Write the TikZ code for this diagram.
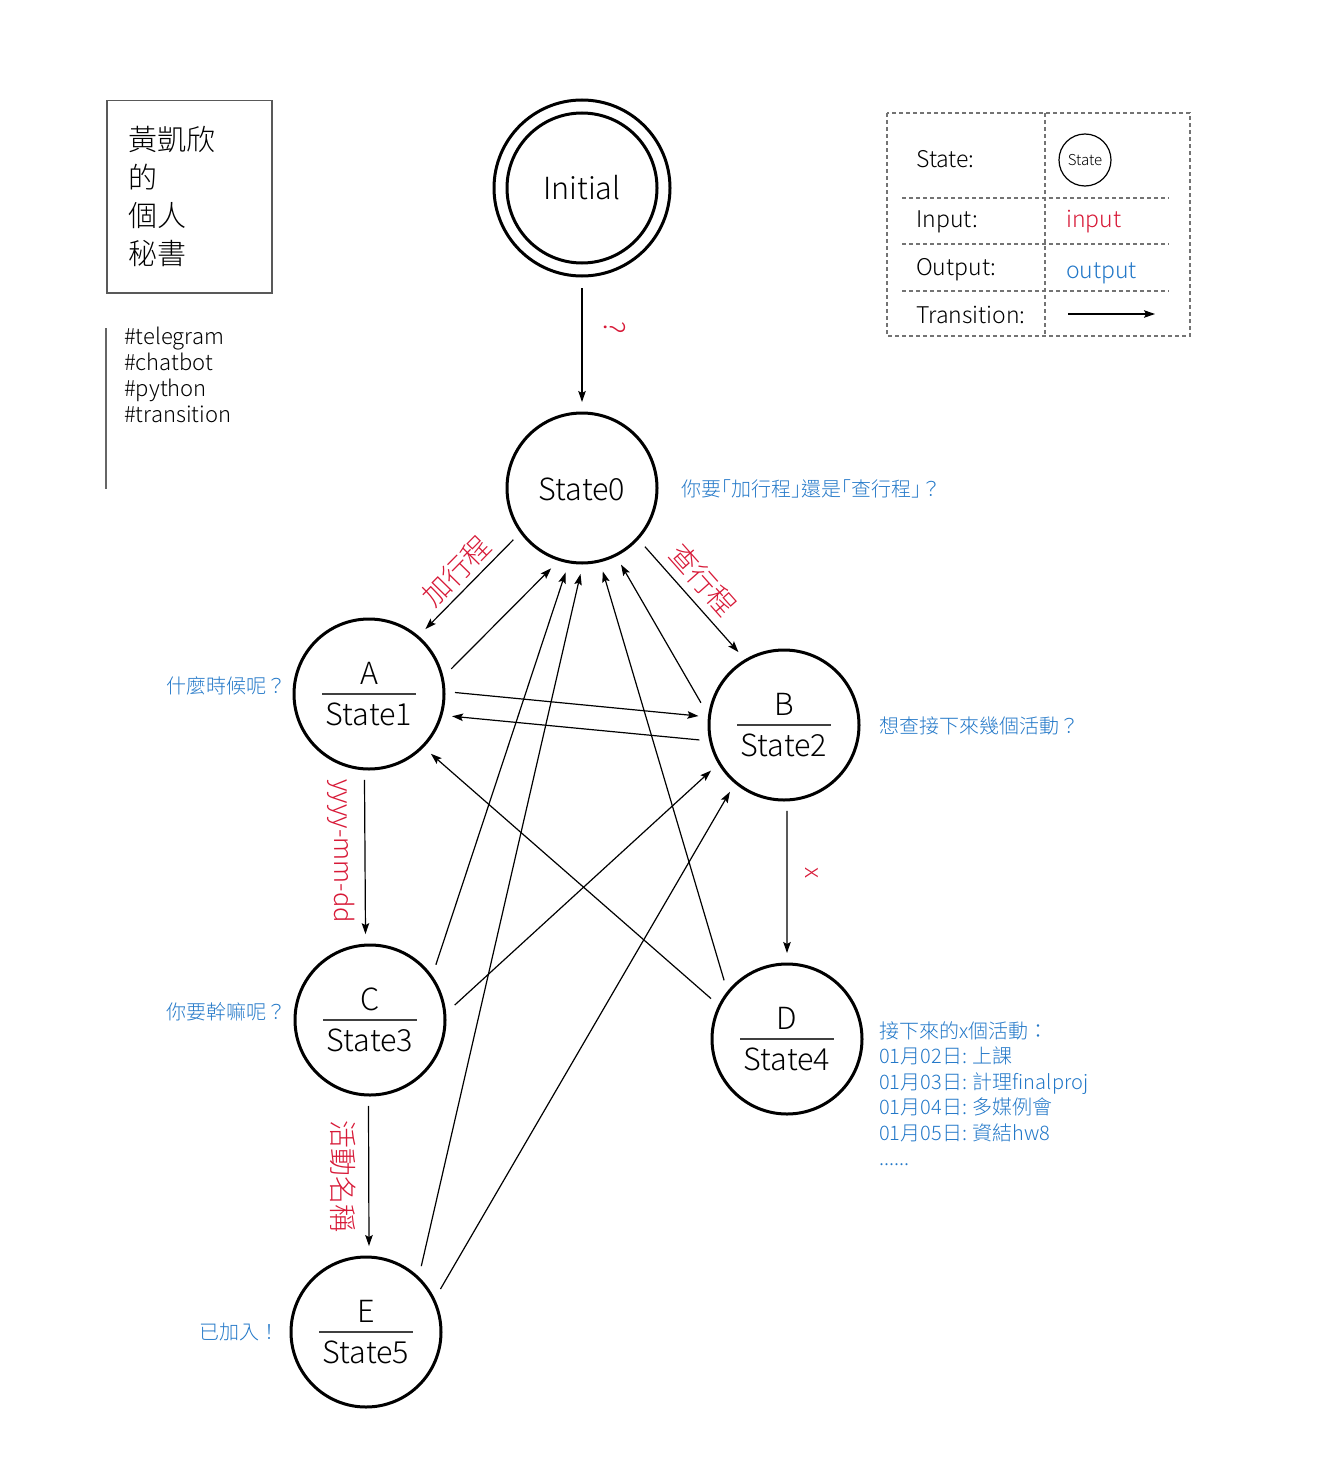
\documentclass[tikz,border=0pt]{standalone}
\usepackage{fontspec}
\IfFontExistsTF{Noto Sans CJK TC Light}{\setmainfont{Noto Sans CJK TC Light}}{\setmainfont{Noto Sans CJK TC}}
\usetikzlibrary{arrows.meta}
\definecolor{outblue}{RGB}{35,120,200}
\definecolor{inred}{RGB}{215,25,55}
\newcommand{\myfs}[2]{\fontsize{#1}{#2}\selectfont}
\newcommand{\hb}[1]{{\addfontfeatures{RawFeature=+halt}#1}}
\newcommand{\mkstate}[5]{%
  \node[statebox] (#1) at (#2,#3) {};
  \node[nm] (#1l) at ([yshift=10pt]#1.center) {#4};
  \node[nm] (#1s) at ([yshift=-31pt]#1.center) {#5};
  \draw[line width=1.3pt, black!75] ([xshift=-47pt]#1.center) -- ([xshift=47pt]#1.center);
}
\begin{document}
\begin{tikzpicture}[x=1pt,y=-1pt,
  statebox/.style={circle, draw, line width=3pt, minimum size=150pt, inner sep=0pt, outer sep=11pt},
  arr/.style={line width=1.2pt, -{Stealth[length=11pt,width=7.5pt,inset=2pt]}},
  inlab/.style={text=inred, font=\myfs{28}{28}, inner sep=2pt},
  outlab/.style={text=outblue, font=\myfs{20}{25.5}, inner sep=0pt},
  nm/.style={font=\myfs{30.5}{30.5}, inner sep=0pt, anchor=base},
  leg/.style={dash pattern=on 4pt off 3pt, line width=1.2pt, draw=black!55},
  legtxt/.style={anchor=west, inner sep=0pt, font=\myfs{23}{23}}]
\useasboundingbox (0,0) rectangle (1324,1461);

% title box
\node[draw=black!65, line width=1.5pt, anchor=north west, minimum width=165pt, minimum height=192pt,
      text width=121pt, inner xsep=22pt, inner ysep=0pt, align=left, font=\myfs{29}{38}] (title) at (106,100)
      {黃凱欣\\的\\個人\\秘書};

% hashtags
\node[anchor=north west, align=left, inner sep=0pt, font=\myfs{22}{26}] (tags) at (124,327)
      {\#telegram\\\#chatbot\\\#python\\\#transition};
\draw[line width=1.3pt, black!60] (106,328) -- (106,489);

% legend
\draw[leg] (887,113) rectangle (1190,336);
\draw[leg] (1045,113) -- (1045,336);
\foreach \yy in {198,244,291} \draw[leg] (902,\yy) -- (1169,\yy);
\node[legtxt] (lg1) at (916,159) {State:};
\node[legtxt] (lg2) at (916,222) {Input:};
\node[legtxt] (lg3) at (916,270) {Output:};
\node[legtxt] (lg4) at (916,315) {Transition:};
\node[circle, draw, line width=1.2pt, minimum size=52pt, inner sep=0pt, font=\myfs{15}{15}] (lgst) at (1085,160) {State};
\node[legtxt, text=inred] (lgin) at (1066,222) {input};
\node[legtxt, text=outblue] (lgout) at (1066,273) {output};
\coordinate (lga) at (1068,314);
\coordinate (lgb) at (1155,314);
\draw[arr] (lga) -- (lgb);

% initial
\node[statebox, minimum size=176pt, outer sep=12pt] (init) at (582,188) {};
\node[circle, draw, line width=3pt, minimum size=150pt, inner sep=0pt] (initin) at (582,188) {};
\node[nm] (initt) at ([yshift=-11pt]initin.center) {Initial};

% states
\node[statebox] (s0) at (582,488) {};
\node[nm] (s0t) at ([yshift=-12pt]s0.center) {State0};
\mkstate{s1}{369}{694}{A}{State1}
\mkstate{s2}{784}{725}{B}{State2}
\mkstate{s3}{370}{1020}{C}{State3}
\mkstate{s4}{787}{1039}{D}{State4}
\mkstate{s5}{366}{1332}{E}{State5}

% transitions
\draw[arr] (init.-90) -- node[inlab, pos=0.35, sloped, allow upside down, above=20pt] {?} (s0.90);
\draw[arr] (s0.217) -- node[inlab, sloped, above=3pt] {加行程} (s1.49);
\draw[arr] (s0.-43) -- node[inlab, pos=0.45, sloped, above=6pt] {查行程} (s2.122);
\draw[arr] (s1.17) -- (s0.-111);
\draw[arr] (s3.40) -- (s0.-101);
\draw[arr] (s5.50) -- (s0.-91);
\draw[arr] (s4.137) -- (s0.-76);
\draw[arr] (s2.165) -- (s0.-63);
\draw[arr] (s1.1) -- (s2.174);
\draw[arr] (s2.-170) -- (s1.-15);
\draw[arr] (s1.-93) -- node[inlab, pos=0.46, sloped, allow upside down, below=8pt, font=\myfs{25.5}{25.5}] {yyyy-mm-dd} (s3.93);
\draw[arr] (s3.10) -- (s2.212);
\draw[arr] (s4.152) -- (s1.-44);
\draw[arr] (s2.-88) -- node[inlab, pos=0.44, sloped, allow upside down, above=16pt, font=\myfs{24}{24}] {x} (s4.90);
\draw[arr] (s5.30) -- (s2.231);
\draw[arr] (s3.-91) -- node[inlab, sloped, allow upside down, below=10pt] {活動名稱} (s5.88);

% outputs
\node[outlab, anchor=west] (o0) at (681,489) {你要\hb{「}加行程\hb{」}還是\hb{「}查行程\hb{」}？};
\node[outlab, anchor=east] (o1) at (287,686) {什麼時候呢？};
\node[outlab, anchor=west] (o2) at (879,726) {想查接下來幾個活動？};
\node[outlab, anchor=east] (o3) at (287,1012) {你要幹嘛呢？};
\node[outlab, anchor=east] (o5) at (280,1332) {已加入！};
\node[outlab, anchor=north west, align=left] (o4) at (879,1021)
  {接下來的x個活動：\\01月02日: 上課\\01月03日: 計理finalproj\\01月04日: 多媒例會\\01月05日: 資結hw8\\......};
\end{tikzpicture}
\end{document}
